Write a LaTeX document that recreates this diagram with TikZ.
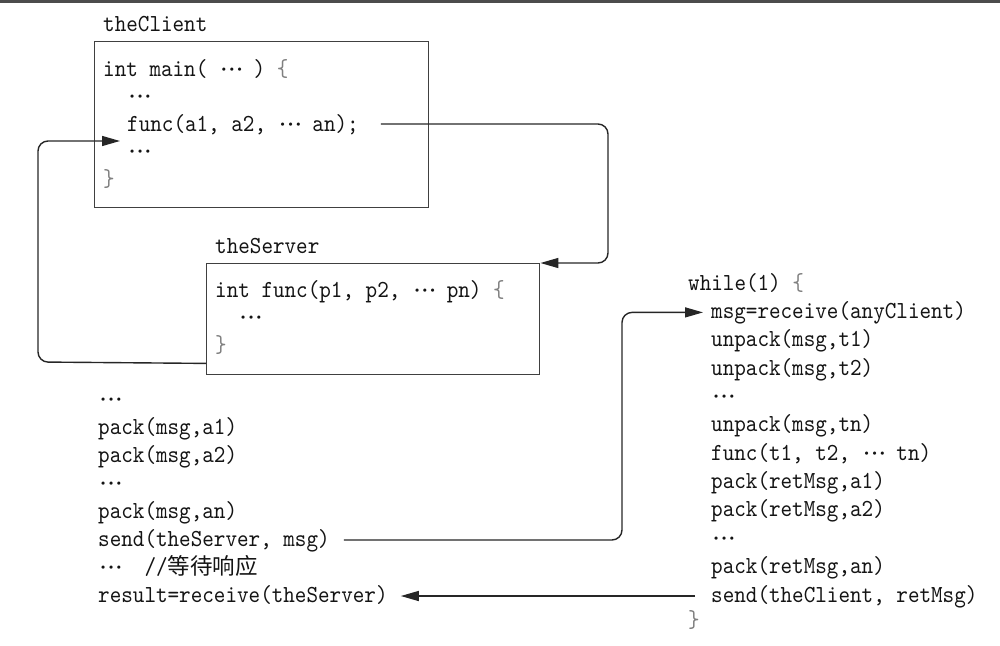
\documentclass[tikz,border=0pt]{standalone}
\usepackage{fontspec}
\newfontfamily\codefont{lmmono10-regular.otf}[FakeStretch=0.9]
\newfontfamily\cjk{Noto Sans CJK SC}
\usetikzlibrary{arrows.meta}
\newcommand\dt{{\fontsize{12}{12}\selectfont\rmfamily\textbullet}}
\newcommand\dd{\makebox[23.2pt][l]{\hspace{0.5pt}\raisebox{4pt}{\dt\kern-1.3pt\dt\kern-1.3pt\dt}}}
\newcommand\lbr{\textcolor{black!50}{\{}}
\newcommand\rbr{\textcolor{black!50}{\}}}
\tikzset{
  code/.style={anchor=base west, inner sep=0pt, text=black!92,
    font=\codefont\fontsize{24.5}{28}\selectfont},
  codebox/.style={draw=black!75, line width=1.4pt, inner sep=0pt, anchor=north west},
  conn/.style={line width=1.4pt, draw=black!85, rounded corners=10pt},
  arr/.style={conn, -{Triangle[length=18pt,width=10pt]}}
}
\begin{document}
\begin{tikzpicture}[x=1pt,y=-1pt]
\useasboundingbox (0,0) rectangle (1000,645);
\fill[black!70] (0,0) rectangle (1000,3);

% client
\node[code] (clab) at (103,31.5) {theClient};
\node[codebox, minimum width=334pt, minimum height=166pt] (client) at (94,41) {};
\node[code] (c0) at (103,76) {int main( \dd\ ) \lbr};
\node[code] (c1) at (127,103.5) {\dd};
\node[code] (f1) at (127,131) {func(a1, a2, \dd\ an);};
\node[code] (c3) at (127,158.5) {\dd};
\node[code] (c4) at (103,186) {\rbr};

% server
\node[code] (slab) at (215,253) {theServer};
\node[codebox, minimum width=333pt, minimum height=111pt] (srv) at (206,263) {};
\node[code] (s0) at (215,297) {int func(p1, p2, \dd\ pn) \lbr};
\node[code] (s1) at (238,324.5) {\dd};
\node[code] (s2b) at (215,352) {\rbr};

% left free text
\node[code] (l0) at (98,406) {\dd};
\node[code] (l1) at (98,434) {pack(msg,a1)};
\node[code] (l2) at (98,462) {pack(msg,a2)};
\node[code] (l3) at (98,490) {\dd};
\node[code] (l4) at (98,518) {pack(msg,an)};
\node[code] (send) at (98,546) {send(theServer, msg)};
\node[code] (l6) at (98,574) {\dd\ \ //{\cjk\fontsize{22.5}{28}\selectfont 等待响应}};
\node[code] (res) at (98,602) {result=receive(theServer)};

% right text
\node[code] (w0) at (688,290) {while(1) \lbr};
\node[code] (m1) at (711,318.4) {msg=receive(anyClient)};
\node[code] (r2) at (711,346.7) {unpack(msg,t1)};
\node[code] (r3) at (711,375.1) {unpack(msg,t2)};
\node[code] (r4) at (711,403.5) {\dd};
\node[code] (r5) at (711,431.8) {unpack(msg,tn)};
\node[code] (r6) at (711,460.2) {func(t1, t2, \dd\ tn)};
\node[code] (r7) at (711,488.5) {pack(retMsg,a1)};
\node[code] (r8) at (711,516.9) {pack(retMsg,a2)};
\node[code] (r9) at (711,545.3) {\dd};
\node[code] (r10) at (711,573.6) {pack(retMsg,an)};
\node[code] (sc) at (711,602) {send(theClient, retMsg)};
\node[code] (r12) at (688,627) {\rbr};

% connectors
\coordinate (a1) at (608,124);
\coordinate (a2) at (608,263);
\draw[arr] ([shift={(22pt,7pt)}]f1.base east) -- (a1) -- (a2) -- (srv.north east);

\coordinate (b0) at ([yshift=12pt]srv.south west);
\coordinate (b1) at (38,362);
\coordinate (b2) at (38,141);
\coordinate (cin) at (120,141);
\draw[arr] (b0) -- (b1) -- (b2) -- (cin);

\coordinate (d1) at (622,540);
\coordinate (d2) at (622,312.4);
\draw[arr] ([shift={(14pt,6pt)}]send.base east) -- (d1) -- (d2) -- ([shift={(-8pt,6pt)}]m1.base west);

\draw[arr] ([shift={(-16pt,6pt)}]sc.base west) -- ([shift={(13pt,6pt)}]res.base east);
\end{tikzpicture}
\end{document}
